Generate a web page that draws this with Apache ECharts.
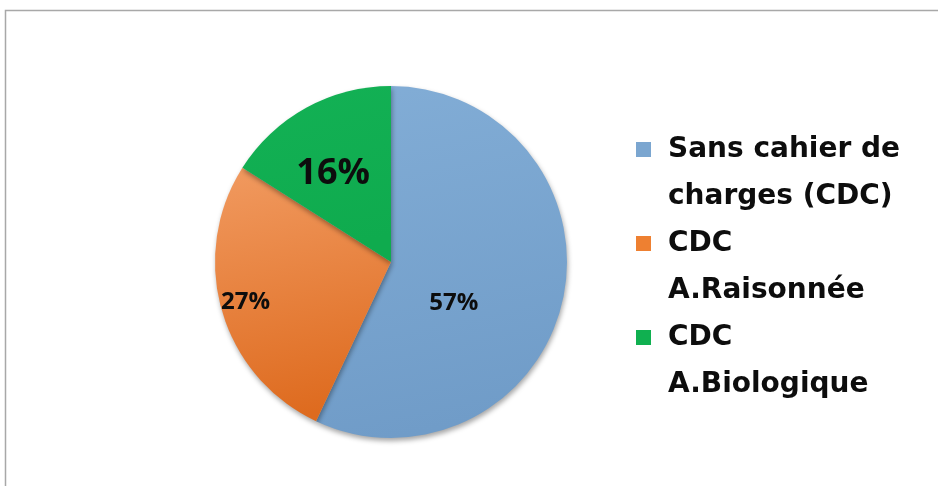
<!DOCTYPE html>
<html>
<head>
<meta charset="utf-8">
<script src="https://cdn.jsdelivr.net/npm/echarts@6/dist/echarts.min.js"></script>
<style>
html,body{margin:0;padding:0;background:#fff;}
#chart{width:938px;height:486px;}
</style>
</head>
<body>
<div id="chart"></div>
<script>
const categories = ['Sans cahier de charges (CDC)', 'CDC A.Raisonnée', 'CDC A.Biologique'];
const legendLines = ['Sans cahier de\ncharges (CDC)', 'CDC\nA.Raisonnée', 'CDC\nA.Biologique'];
const values = [57, 27, 16];
const percentLabels = ['57%', '27%', '16%'];

const sliceColors = [
  { top: '#82ADD6', bottom: '#709CC8' },
  { top: '#F19A60', bottom: '#DE6B1F' },
  { top: '#13B155', bottom: '#0FAB4E' }
];
const legendColors = ['#7BA6D0', '#EE8031', '#10B050'];
const labelSizes = [24, 24, 36];
const labelShift = [[-26, 21], [-58, 15], [-14, -9]];

const chart = echarts.init(document.getElementById('chart'));
const pieData = categories.map((name, i) => ({
  name: name,
  value: values[i],
  itemStyle: {
    color: {
      type: 'linear', x: 0, y: 0, x2: 0.3, y2: 1,
      colorStops: [
        { offset: 0, color: sliceColors[i].top },
        { offset: 1, color: sliceColors[i].bottom }
      ]
    }
  },
  label: { fontSize: labelSizes[i] }
}));

chart.setOption({
  animation: false,
  backgroundColor: '#ffffff',
  color: legendColors,
  graphic: [{
    type: 'rect',
    shape: { x: 5.5, y: 10.5, width: 1200, height: 1200 },
    style: { fill: 'none', stroke: '#a8a8a8', lineWidth: 1.5 },
    silent: true,
    z: -10
  }],
  legend: {
    orient: 'vertical',
    left: 636,
    top: 79,
    padding: 0,
    itemGap: -47,
    itemWidth: 15,
    itemHeight: 15,
    icon: 'rect',
    data: categories.map((name, i) => ({ name: name, itemStyle: { color: legendColors[i] } })),
    formatter: function (name) { return '\n' + legendLines[categories.indexOf(name)]; },
    textStyle: {
      fontFamily: 'DejaVu Sans',
      fontWeight: 'bold',
      fontSize: 28,
      lineHeight: 47,
      color: '#0d0d0d',
      padding: [0, 0, 0, 12]
    }
  },
  series: [{
    type: 'pie',
    center: [391, 262],
    radius: 176,
    startAngle: 90,
    clockwise: true,
    data: pieData,
    label: {
      show: true,
      position: 'inside',
      formatter: function (p) { return percentLabels[p.dataIndex]; },
      fontFamily: 'Open Sans',
      fontWeight: 'bold',
      color: '#0d0d0d'
    },
    labelLayout: function (params) {
      const s = labelShift[params.dataIndex];
      return { dx: s[0], dy: s[1] };
    },
    labelLine: { show: false },
    itemStyle: {
      borderWidth: 0,
      shadowBlur: 5,
      shadowColor: 'rgba(0,0,0,0.35)',
      shadowOffsetX: 1,
      shadowOffsetY: 3
    },
    emphasis: { disabled: true }
  }]
});
</script>
</body>
</html>
